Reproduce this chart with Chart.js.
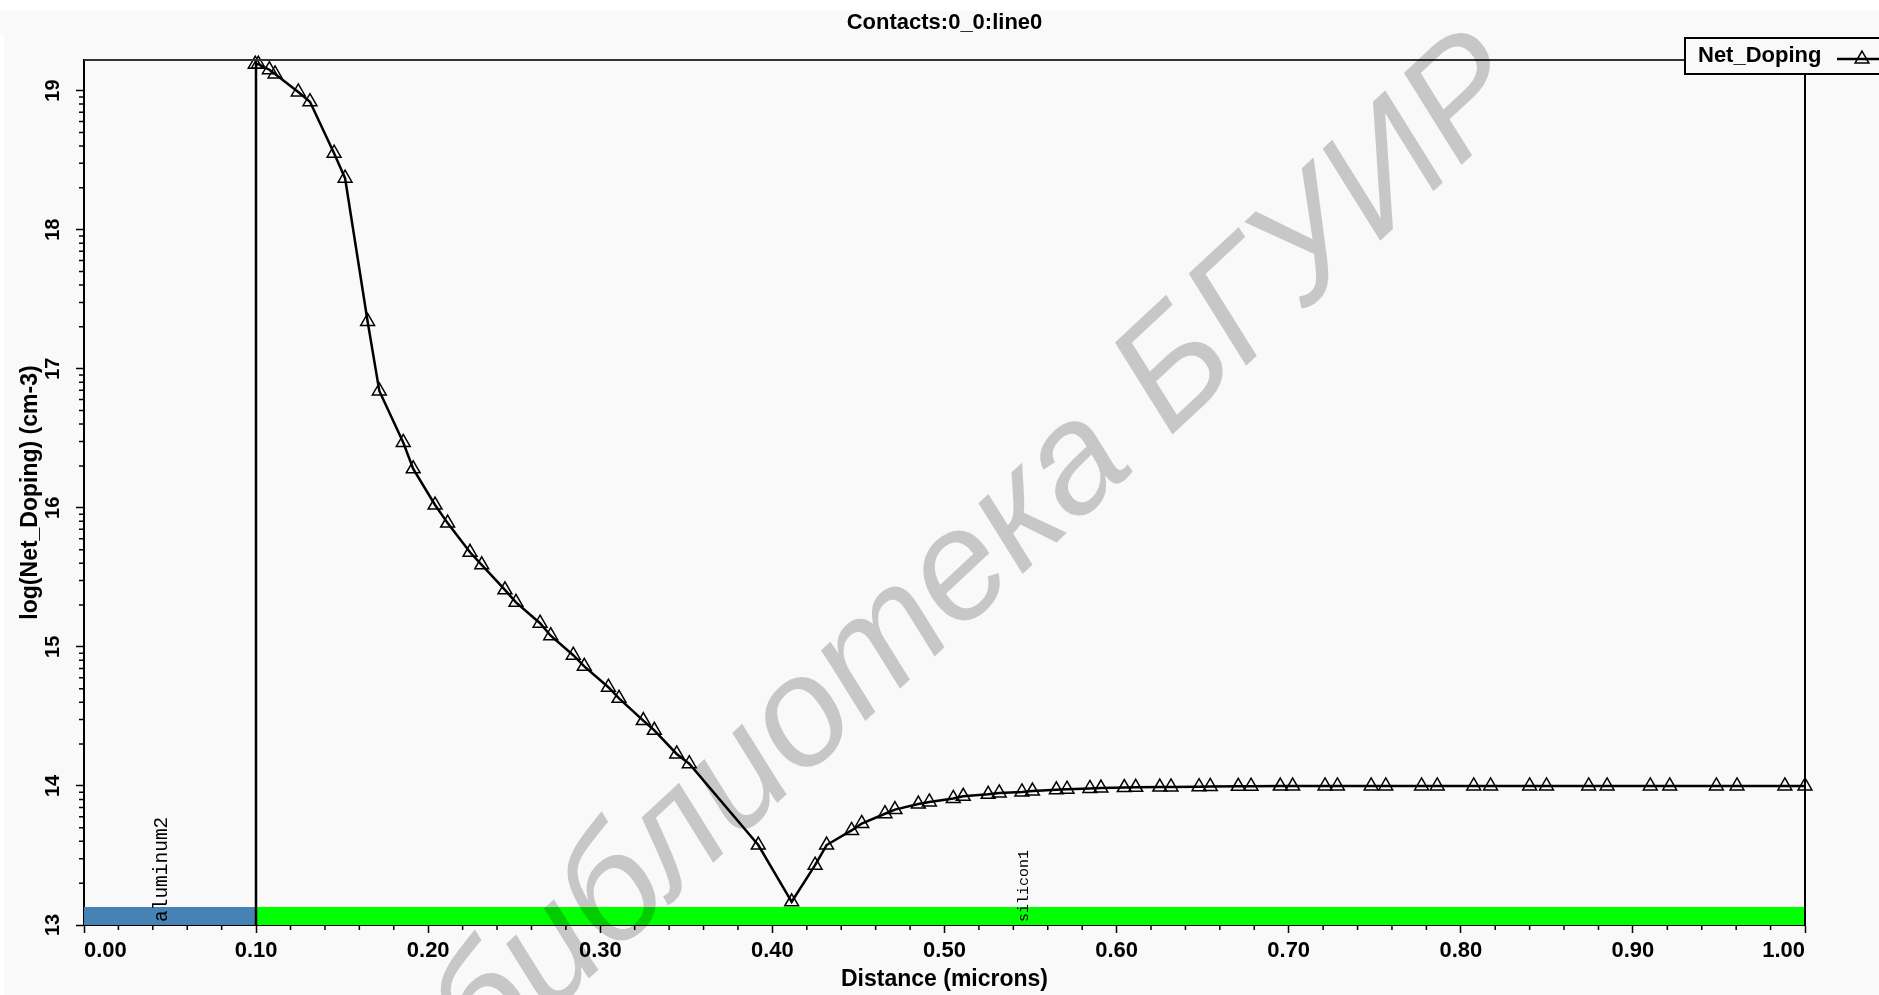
<!DOCTYPE html>
<html>
<head>
<meta charset="utf-8">
<script src="https://cdn.jsdelivr.net/npm/chart.js@4.4.1/dist/chart.umd.min.js"></script>
<style>
  html, body { margin: 0; padding: 0; background: #f9f9f9; overflow: hidden; }
  canvas { display: block; }
</style>
</head>
<body>
<canvas id="plot" width="1879" height="995"></canvas>
<script>
// Net doping profile along the cut line (distance in microns, log10 of |N| in cm^-3)
const distance = [
  0.0995, 0.1013, 0.1077, 0.1110, 0.1245, 0.1313, 0.1453, 0.1517, 0.1648, 0.1716,
  0.1855, 0.1913, 0.2040, 0.2113, 0.2243, 0.2311, 0.2446, 0.2510, 0.2650, 0.2712,
  0.2843, 0.2907, 0.3047, 0.3109, 0.3250, 0.3314, 0.3444, 0.3517, 0.3918, 0.4112,
  0.4248, 0.4315, 0.4460, 0.4519, 0.4654, 0.4712, 0.4848, 0.4912, 0.5051, 0.5109,
  0.5254, 0.5318, 0.5450, 0.5511, 0.5650, 0.5712, 0.5845, 0.5909, 0.6045, 0.6111,
  0.6251, 0.6316, 0.6479, 0.6544, 0.6707, 0.6781, 0.6951, 0.7023, 0.7211, 0.7283,
  0.7479, 0.7564, 0.7772, 0.7863, 0.8075, 0.8173, 0.8400, 0.8498, 0.8743, 0.8850,
  0.9101, 0.9214, 0.9485, 0.9605, 0.9883, 1.0000
];
const logNetDoping = [
  19.19, 19.19, 19.15, 19.12, 18.99, 18.92, 18.55, 18.37, 17.34, 16.84,
  16.47, 16.28, 16.02, 15.89, 15.68, 15.59, 15.41, 15.32, 15.17, 15.08,
  14.94, 14.86, 14.71, 14.63, 14.47, 14.40, 14.23, 14.16, 13.575, 13.167,
  13.43, 13.575, 13.68, 13.73, 13.80, 13.83, 13.87, 13.885, 13.91, 13.925,
  13.94, 13.95, 13.957, 13.963, 13.972, 13.977, 13.982, 13.985, 13.988, 13.990,
  13.992, 13.993, 13.995, 13.996, 13.997, 13.998, 13.999, 13.999, 14.0, 14.0,
  14.0, 14.0, 14.0, 14.0, 14.0, 14.0, 14.0, 14.0, 14.0, 14.0,
  14.0, 14.0, 14.0, 14.0, 14.0, 14.0
];

// Axis ticks
const xTickValues = [0.0, 0.1, 0.2, 0.3, 0.4, 0.5, 0.6, 0.7, 0.8, 0.9, 1.0];
const xMinorStep = 0.02;
const yTickValues = [13, 14, 15, 16, 17, 18, 19];
const xRange = [0, 1];
const yRange = [13, 19.22];

// Material regions along the cut
const regionNames = ['aluminum2', 'silicon1'];
const regionFrom = [0.0, 0.1];
const regionTo = [0.1, 1.0];
const regionLabelAt = [0.045, 0.546];
const regionColors = ['#4682b4', '#00ff00'];

const watermarkText = 'библиотека БГУИР';

const FONT = "'Liberation Sans', Arial, sans-serif";
const MONO = "'Liberation Mono', 'Courier New', monospace";

const decorations = {
  id: 'decorations',
  beforeDraw(chart) {
    const ctx = chart.ctx;
    ctx.save();
    ctx.fillStyle = '#f9f9f9';
    ctx.fillRect(0, 0, chart.width, chart.height);
    ctx.fillStyle = '#ffffff';
    ctx.fillRect(0, 0, chart.width, 11);
    ctx.fillRect(0, 35, 4, chart.height - 35);
    ctx.restore();
  },
  beforeDatasetsDraw(chart) {
    const {ctx, chartArea: a, scales: {x, y}} = chart;
    ctx.save();
    // material bands along the bottom of the plot
    const bandH = 18;
    regionNames.forEach((name, i) => {
      const x0 = x.getPixelForValue(regionFrom[i]);
      const x1 = x.getPixelForValue(regionTo[i]);
      ctx.fillStyle = regionColors[i];
      ctx.fillRect(x0, a.bottom - bandH, x1 - x0, bandH);
    });
    // region names, written upward
    regionNames.forEach((name, i) => {
      const px = x.getPixelForValue(regionLabelAt[i]);
      ctx.save();
      ctx.translate(px, a.bottom - 3);
      ctx.rotate(-Math.PI / 2);
      ctx.fillStyle = '#000';
      ctx.font = (i === 0 ? '19.5px ' : '15px ') + MONO;
      ctx.textAlign = 'left';
      ctx.textBaseline = 'middle';
      ctx.fillText(name, 0, 0);
      ctx.restore();
    });
    // interface lines between regions
    ctx.strokeStyle = '#000';
    ctx.lineWidth = 2.5;
    for (let i = 1; i < regionFrom.length; i++) {
      const px = Math.round(x.getPixelForValue(regionFrom[i]));
      ctx.beginPath();
      ctx.moveTo(px, a.top);
      ctx.lineTo(px, a.bottom);
      ctx.stroke();
    }
    ctx.restore();
  },
  afterDraw(chart) {
    const {ctx, chartArea: a, scales: {x, y}} = chart;
    ctx.save();
    // frame: top and right edges
    ctx.strokeStyle = '#333';
    ctx.lineWidth = 2;
    ctx.beginPath();
    ctx.moveTo(a.left, a.top);
    ctx.lineTo(a.right, a.top);
    ctx.stroke();
    ctx.strokeStyle = '#000';
    ctx.beginPath();
    ctx.moveTo(a.right, a.top);
    ctx.lineTo(a.right, a.bottom);
    ctx.stroke();

    // minor ticks
    ctx.lineWidth = 1.5;
    ctx.beginPath();
    for (let n = yTickValues[0]; n <= yTickValues[yTickValues.length - 1]; n++) {
      for (let k = 2; k <= 9; k++) {
        const v = n + Math.log10(k);
        if (v > y.max) continue;
        const py = y.getPixelForValue(v);
        ctx.moveTo(a.left - 5, py);
        ctx.lineTo(a.left, py);
      }
    }
    const steps = Math.round((x.max - x.min) / xMinorStep);
    for (let i = 1; i < steps; i++) {
      if (i % 5 === 0) continue;
      const px = x.getPixelForValue(x.min + i * xMinorStep);
      ctx.moveTo(px, a.bottom);
      ctx.lineTo(px, a.bottom + 5);
    }
    ctx.stroke();

    // legend box, overlapping the top-right corner
    const ds = chart.data.datasets[0];
    const bx = 1685, by = 38, bh = 36;
    ctx.fillStyle = '#f9f9f9';
    ctx.fillRect(bx, by, chart.width - bx + 5, bh);
    ctx.strokeStyle = '#000';
    ctx.lineWidth = 2;
    ctx.strokeRect(bx, by, chart.width - bx + 5, bh);
    ctx.fillStyle = '#000';
    ctx.font = 'bold 22px ' + FONT;
    ctx.textAlign = 'left';
    ctx.textBaseline = 'middle';
    ctx.fillText(ds.label, bx + 13, by + bh / 2);
    ctx.lineWidth = ds.borderWidth;
    ctx.beginPath();
    ctx.moveTo(1837, by + 21);
    ctx.lineTo(chart.width, by + 21);
    ctx.stroke();
    ctx.fillStyle = ds.pointBackgroundColor;
    ctx.strokeStyle = ds.pointBorderColor;
    ctx.lineWidth = ds.pointBorderWidth;
    Chart.helpers.drawPoint(ctx, {
      pointStyle: ds.pointStyle, radius: ds.pointRadius, rotation: 0,
      borderWidth: ds.pointBorderWidth
    }, 1862, by + 21);

    // watermark
    ctx.save();
    ctx.translate(980, 555);
    ctx.rotate(-43 * Math.PI / 180);
    ctx.font = 'italic 155px ' + FONT;
    ctx.fillStyle = 'rgba(0,0,0,0.2)';
    ctx.textAlign = 'center';
    ctx.textBaseline = 'middle';
    ctx.fillText(watermarkText, 0, 0);
    ctx.restore();

    ctx.restore();
  }
};

new Chart(document.getElementById('plot'), {
  type: 'line',
  data: {
    datasets: [{
      label: 'Net_Doping',
      data: distance.map((d, i) => ({x: d, y: logNetDoping[i]})),
      borderColor: '#000',
      borderWidth: 2.5,
      tension: 0,
      pointStyle: 'triangle',
      pointRadius: 8,
      pointBorderWidth: 1.5,
      pointBorderColor: '#000',
      pointBackgroundColor: 'rgba(0,0,0,0)',
      clip: false
    }]
  },
  options: {
    responsive: false,
    animation: false,
    events: [],
    layout: { padding: { top: 0, left: 0, right: 74, bottom: 0 } },
    plugins: {
      legend: { display: false },
      tooltip: { enabled: false },
      title: {
        display: true,
        text: 'Contacts:0_0:line0',
        fullSize: false,
        color: '#000',
        font: { family: FONT, size: 22, weight: 'bold', lineHeight: 1.2 },
        padding: { top: 10, bottom: 23.6 }
      }
    },
    scales: {
      x: {
        type: 'linear',
        min: xRange[0],
        max: xRange[1],
        afterBuildTicks: s => { s.ticks = xTickValues.map(v => ({value: v})); },
        afterFit: s => { s.height = 70; },
        grid: { display: true, drawOnChartArea: false, drawTicks: true, tickLength: 8, tickColor: '#000', tickWidth: 1.5 },
        border: { display: true, color: '#000', width: 2 },
        ticks: {
          align: 'inner',
          padding: 5,
          color: '#000',
          font: { family: FONT, size: 22, weight: 'bold' },
          callback: v => Number(v).toFixed(2)
        },
        title: {
          display: true,
          text: 'Distance (microns)',
          color: '#000',
          font: { family: FONT, size: 23, weight: 'bold', lineHeight: 1.2 },
          padding: { top: 0, bottom: 2 }
        }
      },
      y: {
        type: 'linear',
        min: yRange[0],
        max: yRange[1],
        afterBuildTicks: s => { s.ticks = yTickValues.map(v => ({value: v})); },
        afterFit: s => { s.width = 84; },
        grid: { display: true, drawOnChartArea: false, drawTicks: true, tickLength: 8, tickColor: '#000', tickWidth: 1.5 },
        border: { display: true, color: '#000', width: 2 },
        ticks: {
          minRotation: 90,
          maxRotation: 90,
          crossAlign: 'center',
          padding: 11,
          color: '#000',
          font: { family: FONT, size: 20, weight: 'bold' },
          callback: v => String(v)
        },
        title: {
          display: true,
          text: 'log(Net_Doping) (cm-3)',
          color: '#000',
          font: { family: FONT, size: 23, weight: 'bold', lineHeight: 1.2 },
          padding: { top: 17, bottom: 0 }
        }
      }
    }
  },
  plugins: [decorations]
});
</script>
</body>
</html>
